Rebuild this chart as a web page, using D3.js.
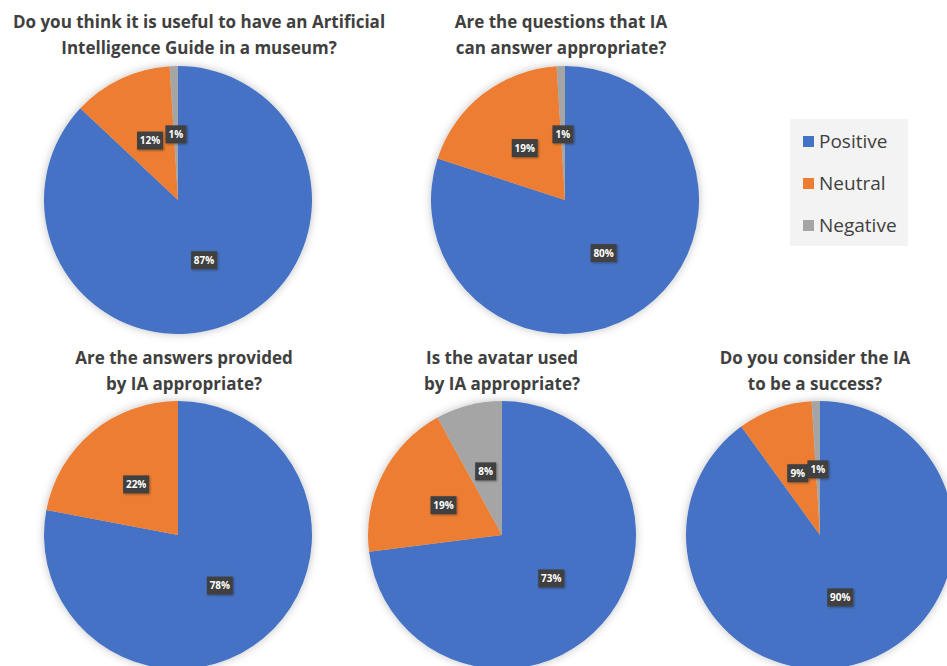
<!DOCTYPE html>
<html>
<head>
<meta charset="utf-8">
<script src="https://cdn.jsdelivr.net/npm/d3@7"></script>
<style>
  body { margin: 0; background: #fff; }
  text { font-family: "Open Sans", sans-serif; }
</style>
</head>
<body>
<div id="chart"></div>
<script>
var WD = 947, HT = 666

var categories = ["Positive", "Neutral", "Negative"]
var colors = ["#4472C4", "#ED7D31", "#A5A5A5"]

var titles = [
  ["Do you think it is useful to have an Artificial", "Intelligence Guide in a museum?"],
  ["Are the questions that IA", "can answer appropriate?"],
  ["Are the answers provided", "by IA appropriate?"],
  ["Is the avatar used", "by IA appropriate?"],
  ["Do you consider the IA", "to be a success?"]
]
var q1 = [87, 12, 1]
var q2 = [80, 19, 1]
var q3 = [78, 22, 0]
var q4 = [73, 19, 8]
var q5 = [90, 9, 1]
var series = [q1, q2, q3, q4, q5]

// layout of each pie: center + title center
var layout = [
  { cx: 178, cy: 200, tx: 199, ty: 22 },
  { cx: 565, cy: 200, tx: 561, ty: 22 },
  { cx: 178, cy: 535, tx: 184, ty: 358 },
  { cx: 502, cy: 535, tx: 502, ty: 358 },
  { cx: 820, cy: 535, tx: 815, ty: 358 }
]
var R = 134

var svg = d3.select("#chart").append("svg")
  .attr("width", WD).attr("height", HT)

var defs = svg.append("defs")
var f = defs.append("filter").attr("id", "shadow")
  .attr("x", "-20%").attr("y", "-20%").attr("width", "140%").attr("height", "140%")
f.append("feDropShadow").attr("dx", 0).attr("dy", 0).attr("stdDeviation", 4)
  .attr("flood-color", "#000").attr("flood-opacity", 0.25)
var f2 = defs.append("filter").attr("id", "lblshadow")
  .attr("x", "-30%").attr("y", "-30%").attr("width", "160%").attr("height", "160%")
f2.append("feDropShadow").attr("dx", 1).attr("dy", 1).attr("stdDeviation", 1.2)
  .attr("flood-color", "#000").attr("flood-opacity", 0.35)

var color = d3.scaleOrdinal().domain(categories).range(colors)
var pie = d3.pie().sort(null).value(function(d) { return d.v })
var arc = d3.arc().innerRadius(0).outerRadius(R)
var lblArc = d3.arc().innerRadius(R * 0.49).outerRadius(R * 0.49)

series.forEach(function(vals, i) {
  var L = layout[i]
  var data = categories.map(function(c, j) { return { c: c, v: vals[j] } })

  var t = svg.append("text")
    .attr("x", L.tx).attr("y", L.ty)
    .attr("text-anchor", "middle")
    .attr("fill", "#404040")
    .attr("font-size", "17px").attr("font-weight", "bold")
  titles[i].forEach(function(line, k) {
    t.append("tspan").attr("x", L.tx).attr("dy", k == 0 ? "0.35em" : "26px").text(line)
  })

  var g = svg.append("g").attr("transform", "translate(" + L.cx + "," + L.cy + ")")
  g.append("g").attr("filter", "url(#shadow)")
    .selectAll("path")
    .data(pie(data))
    .enter().append("path")
      .attr("d", arc)
      .attr("fill", function(d) { return color(d.data.c) })

  var lbl = g.selectAll("g.lbl")
    .data(pie(data).filter(function(d) { return d.data.v > 0 }))
    .enter().append("g")
      .attr("class", "lbl")
      .attr("transform", function(d) { return "translate(" + lblArc.centroid(d) + ")" })
  lbl.append("rect")
    .attr("x", function(d) { return d.data.v >= 10 ? -13 : -10.5 })
    .attr("width", function(d) { return d.data.v >= 10 ? 26 : 21 })
    .attr("y", -9).attr("height", 18)
    .attr("fill", "#404040")
    .attr("filter", "url(#lblshadow)")
  lbl.append("text")
    .attr("text-anchor", "middle").attr("dy", "0.35em")
    .attr("fill", "#fff").attr("font-size", "10px").attr("font-weight", "bold")
    .text(function(d) { return d.data.v + "%" })
})

// legend
var leg = svg.append("g")
leg.append("rect").attr("x", 790).attr("y", 119).attr("width", 118).attr("height", 127).attr("fill", "#f3f3f3")
var items = leg.selectAll("g.item").data(categories).enter().append("g")
  .attr("class", "item")
  .attr("transform", function(d, i) { return "translate(803," + (141 + i * 42) + ")" })
items.append("rect").attr("x", 0).attr("y", -5).attr("width", 11).attr("height", 11)
  .attr("fill", function(d) { return color(d) })
items.append("text").attr("x", 16).attr("dy", "0.35em")
  .attr("fill", "#404040").attr("font-size", "19px")
  .text(function(d) { return d })
</script>
</body>
</html>
